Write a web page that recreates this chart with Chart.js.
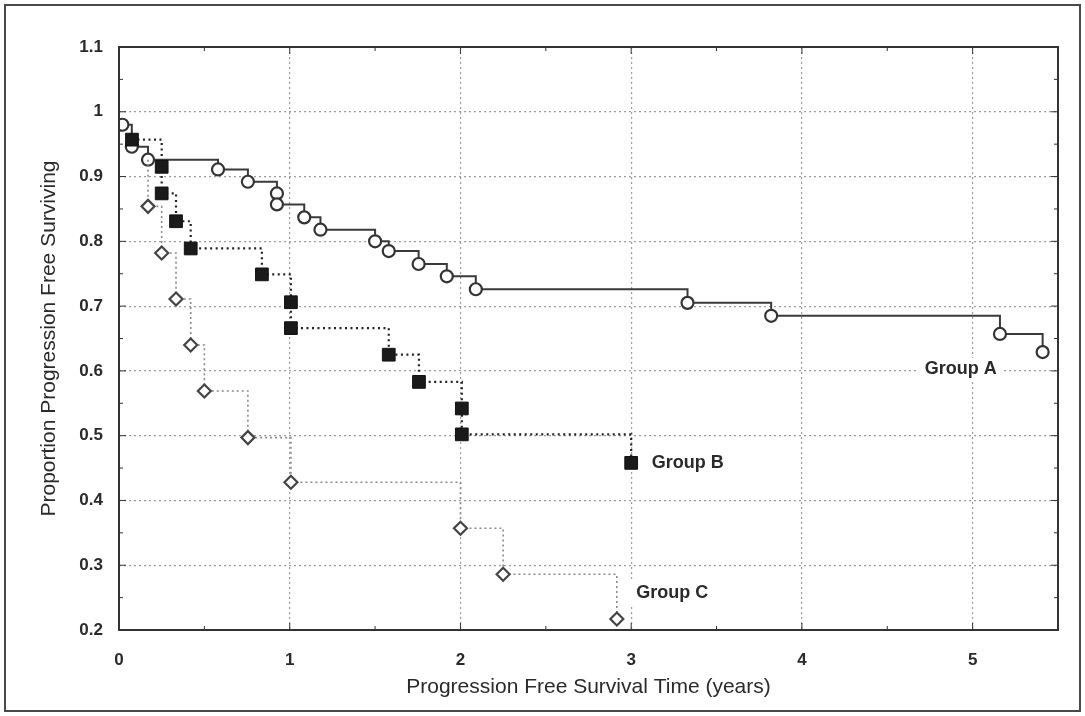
<!DOCTYPE html>
<html>
<head>
<meta charset="utf-8">
<script src="https://cdn.jsdelivr.net/npm/chart.js@4"></script>
<style>
  html, body { margin: 0; padding: 0; background: #fff; }
</style>
</head>
<body>
<canvas id="myChart" width="1085" height="716"></canvas>
<script>
// Group A - open circles, solid line
let groupATime = [0.02, 0.075, 0.17, 0.58, 0.755, 0.925, 0.925, 1.085, 1.18, 1.5, 1.58, 1.755, 1.92, 2.09, 3.33, 3.82, 5.16, 5.41]
let groupASurv = [0.98, 0.946, 0.926, 0.911, 0.892, 0.874, 0.857, 0.837, 0.818, 0.8, 0.785, 0.765, 0.746, 0.726, 0.705, 0.685, 0.657, 0.629]

// Group B - filled squares, dotted line
let groupBTime = [0.076, 0.25, 0.25, 0.334, 0.42, 0.837, 1.007, 1.007, 1.58, 1.757, 2.008, 2.008, 3.0]
let groupBSurv = [0.957, 0.915, 0.874, 0.831, 0.789, 0.749, 0.706, 0.666, 0.625, 0.583, 0.542, 0.502, 0.458]

// Group C - small open diamonds, light dotted line
let groupCTime = [0.17, 0.17, 0.25, 0.334, 0.42, 0.5, 0.755, 1.007, 2.0, 2.25, 2.916]
let groupCSurv = [0.926, 0.854, 0.782, 0.711, 0.64, 0.569, 0.497, 0.428, 0.357, 0.286, 0.217]

let xTicks = [0, 1, 2, 3, 4, 5]
let yTicks = [0.2, 0.3, 0.4, 0.5, 0.6, 0.7, 0.8, 0.9, 1, 1.1]

let groupLabels = [
    { text: 'Group A', x: 4.72, y: 0.603 },
    { text: 'Group B', x: 3.12, y: 0.457 },
    { text: 'Group C', x: 3.03, y: 0.257 }
]

function toPoints(times, surv) {
    return times.map(function(t, i) { return { x: t, y: surv[i] } })
}

let framePlugin = {
    id: 'frame',
    beforeDraw: function(chart) {
        let c = chart.ctx
        c.save()
        c.fillStyle = '#fff'
        c.fillRect(0, 0, chart.width, chart.height)
        c.strokeStyle = '#4a4a4a'
        c.lineWidth = 2
        c.strokeRect(5, 5, chart.width - 10, chart.height - 10)
        c.restore()
    },
    afterDatasetsDraw: function(chart) {
        let c = chart.ctx
        let area = chart.chartArea
        let xs = chart.scales.x
        let ys = chart.scales.y
        c.save()
        // minor ticks along the axes
        c.strokeStyle = '#333'
        c.lineWidth = 1
        c.beginPath()
        for (let t = 0.5; t < 5.5; t += 0.5) {
            let px = xs.getPixelForValue(t)
            let len = (t % 1 === 0) ? 7 : 4
            c.moveTo(px, area.bottom)
            c.lineTo(px, area.bottom - len)
            c.moveTo(px, area.top)
            c.lineTo(px, area.top + len)
        }
        for (let v = 0.25; v < 1.1; v += 0.05) {
            let py = ys.getPixelForValue(v)
            let len = (Math.abs(v * 10 - Math.round(v * 10)) < 0.01) ? 7 : 4
            c.moveTo(area.left, py)
            c.lineTo(area.left + len, py)
            c.moveTo(area.right, py)
            c.lineTo(area.right - len, py)
        }
        c.stroke()
        // plot box
        c.strokeStyle = '#333'
        c.lineWidth = 2
        c.strokeRect(area.left, area.top, area.right - area.left, area.bottom - area.top)
        // group labels
        c.font = 'bold 18px "Liberation Sans", Arial, sans-serif'
        c.textBaseline = 'middle'
        groupLabels.forEach(function(lab) {
            let px = xs.getPixelForValue(lab.x)
            let py = ys.getPixelForValue(lab.y)
            let w = c.measureText(lab.text).width
            c.fillStyle = '#fff'
            c.fillRect(px - 6, py - 11, w + 12, 22)
            c.fillStyle = '#2a2a2a'
            c.fillText(lab.text, px, py)
        })
        c.restore()
    }
}

let ctx = document.getElementById('myChart').getContext('2d')
let chart = new Chart(ctx, {
    type: 'line',
    data: {
        datasets: [{
            label: 'Group C',
            data: toPoints(groupCTime, groupCSurv),
            stepped: 'before',
            borderColor: '#8a8a8a',
            borderWidth: 1.6,
            borderDash: [2, 3],
            pointStyle: 'rectRot',
            pointRadius: function(c) { return c.dataIndex === 0 ? 0 : 6.5 },
            pointBorderWidth: 2.2,
            pointBorderColor: '#444',
            pointBackgroundColor: '#fff',
            fill: false
        }, {
            label: 'Group B',
            data: toPoints(groupBTime, groupBSurv),
            stepped: 'before',
            borderColor: '#222',
            borderWidth: 2.2,
            borderDash: [2, 3.5],
            pointStyle: 'rect',
            pointRadius: 9,
            pointBorderWidth: 1,
            pointBorderColor: '#111',
            pointBackgroundColor: '#1a1a1a',
            fill: false
        }, {
            label: 'Group A',
            data: toPoints(groupATime, groupASurv),
            stepped: 'before',
            borderColor: '#3a3a3a',
            borderWidth: 2,
            pointStyle: 'circle',
            pointRadius: 6,
            pointBorderWidth: 2.2,
            pointBorderColor: '#333',
            pointBackgroundColor: '#fff',
            fill: false
        }]
    },
    options: {
        responsive: false,
        animation: false,
        devicePixelRatio: 1,
        layout: {
            padding: { left: 12, top: 47, right: 27, bottom: 6 }
        },
        plugins: {
            legend: { display: false },
            tooltip: { enabled: false }
        },
        scales: {
            x: {
                type: 'linear',
                min: 0,
                max: 5.5,
                afterFit: function(scale) { scale.height = 80 },
                afterBuildTicks: function(scale) {
                    scale.ticks = xTicks.map(function(v) { return { value: v } })
                },
                grid: {
                    color: 'rgba(130,120,125,0.75)',
                    lineWidth: 1.2,
                    drawTicks: false
                },
                border: { display: false, dash: [2, 3] },
                ticks: {
                    padding: 20,
                    color: '#2a2a2a',
                    font: { family: '"Liberation Sans", Arial, sans-serif', size: 17, weight: 'bold' }
                },
                title: {
                    display: true,
                    text: 'Progression Free Survival Time (years)',
                    color: '#2a2a2a',
                    padding: { top: 0, bottom: 10 },
                    font: { family: '"Liberation Sans", Arial, sans-serif', size: 21 }
                }
            },
            y: {
                type: 'linear',
                min: 0.2,
                max: 1.1,
                afterFit: function(scale) { scale.width = 107 },
                afterBuildTicks: function(scale) {
                    scale.ticks = yTicks.map(function(v) { return { value: v } })
                },
                grid: {
                    color: 'rgba(130,120,125,0.75)',
                    lineWidth: 1.2,
                    drawTicks: false
                },
                border: { display: false, dash: [2, 3] },
                ticks: {
                    padding: 16,
                    color: '#2a2a2a',
                    font: { family: '"Liberation Sans", Arial, sans-serif', size: 17, weight: 'bold' },
                    callback: function(value) {
                        return value === 1 ? '1' : value.toFixed(1)
                    }
                },
                title: {
                    display: true,
                    text: 'Proportion Progression Free Surviving',
                    color: '#2a2a2a',
                    padding: { top: 25, bottom: 0 },
                    font: { family: '"Liberation Sans", Arial, sans-serif', size: 21 }
                }
            }
        }
    },
    plugins: [framePlugin]
})
</script>
</body>
</html>
